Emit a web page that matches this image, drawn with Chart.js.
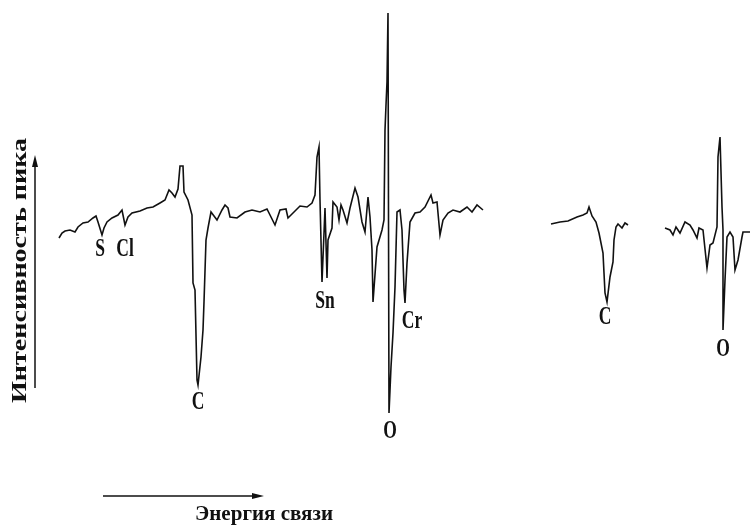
<!DOCTYPE html>
<html>
<head>
<meta charset="utf-8">
<script src="https://cdn.jsdelivr.net/npm/chart.js@4/dist/chart.umd.min.js"></script>
<style>
  body { margin: 0; background: #fff; }
  #spectrum { display: block; }
</style>
</head>
<body>
<canvas id="spectrum" width="753" height="529"></canvas>
<script>
// Оже-спектр (производная), три участка развертки

// Основной участок: S, Cl, C, Sn, O, Cr
var energyMain = [59, 62, 65, 70, 75, 78, 83, 88, 93, 96, 98, 102, 104, 107, 112, 118, 122, 125, 128, 132,
  140, 147, 153, 160, 165, 169, 172, 175, 178, 180, 183, 184, 188, 192, 193, 195, 197, 198, 201, 203,
  204, 206, 208, 211, 217, 222, 225, 228, 230, 237, 245, 252, 260, 267, 275, 280, 286, 288, 293, 300,
  307, 312, 315, 317, 319, 320, 322, 324, 325, 327, 328, 332, 333, 337, 339, 341, 343, 347, 350, 355,
  358, 362, 365, 368, 370, 372, 373, 377, 382, 384, 385, 386, 387, 388, 389, 391, 393, 395, 397, 400,
  402, 404, 405, 407, 410, 415, 420, 425, 431, 433, 437, 440, 443, 448, 453, 460, 467, 472, 477, 483];
var intensityMain = [-8, -3, -1, 0, -2, 3, 7, 8, 12, 14, 8, -5, 2, 8, 12, 15, 20, 5, 13, 17,
  19, 22, 23, 27, 30, 40, 37, 33, 41, 64, 64, 38, 30, 15, -53, -60, -150, -155, -127, -100,
  -72, -10, 2, 18, 10, 20, 25, 22, 13, 12, 18, 20, 18, 21, 5, 20, 21, 12, 17, 24,
  23, 27, 35, 73, 83, 30, -52, -3, 22, -48, -10, 2, 28, 23, 10, 25, 20, 7, 22, 42,
  33, 8, -2, 33, 13, -20, -72, -17, 0, 10, 100, 125, 148, 217, -183, -137, -103, -57, 18, 20,
  0, -60, -73, -33, 8, 17, 18, 23, 35, 27, 28, -5, 10, 17, 20, 18, 23, 18, 25, 20];

// Второй участок: линия C
var energyC = [551, 560, 568, 577, 583, 587, 589, 592, 596, 599, 603, 605, 607, 610, 613, 614, 616, 618, 622, 625, 628];
var intensityC = [6, 8, 9, 13, 15, 17, 23, 14, 8, -3, -23, -63, -72, -47, -32, -10, 3, 6, 2, 7, 5];

// Третий участок: линия O
var energyO = [665, 670, 673, 676, 680, 685, 690, 693, 697, 699, 703, 707, 710, 713, 717, 718, 720, 722, 723, 723,
  725, 727, 730, 733, 735, 738, 742, 743, 750];
var intensityO = [2, 0, -5, 3, -3, 8, 5, 0, -8, 2, 0, -38, -15, -13, 3, 73, 93, 23, 0, -100,
  -50, -7, -2, -7, -40, -30, -7, -2, -2];

// Подписи пиков (энергия, интенсивность центра надписи)
var peakNames = ["S", "Cl", "C", "Sn", "O", "Cr", "C", "O"];
var peakEnergy = [100, 125, 198, 325, 390, 412, 605, 723];
var peakLevel = [-20, -20, -173, -72, -202, -92, -88, -120];

var titleY = "Интенсивность пика";
var titleX = "Энергия связи";

function toPoints(xs, ys) {
  var pts = [];
  for (var i = 0; i < xs.length; i++) {
    pts.push({ x: xs[i], y: ys[i] });
  }
  return pts;
}

function lineSet(xs, ys) {
  return {
    data: toPoints(xs, ys),
    showLine: true,
    borderColor: "#111",
    borderWidth: 1.6,
    pointRadius: 0,
    tension: 0,
  };
}

// текст, сжатый/растянутый до нужной ширины
function fitText(ctx, text, x, y, width, font) {
  ctx.save();
  ctx.font = font;
  var w = ctx.measureText(text).width;
  ctx.translate(x, y);
  ctx.scale(width / w, 1);
  ctx.fillText(text, 0, 0);
  ctx.restore();
}

function arrowHead(ctx, x, y, dir) {
  // dir: "up" или "right"
  ctx.beginPath();
  if (dir === "up") {
    ctx.moveTo(x, y);
    ctx.lineTo(x - 3, y + 12);
    ctx.lineTo(x + 3, y + 12);
  } else {
    ctx.moveTo(x, y);
    ctx.lineTo(x - 12, y - 3);
    ctx.lineTo(x - 12, y + 3);
  }
  ctx.closePath();
  ctx.fill();
}

var annotations = {
  id: "annotations",
  afterDraw: function (chart) {
    var ctx = chart.ctx;
    var sx = chart.scales.x;
    var sy = chart.scales.y;
    ctx.save();
    ctx.fillStyle = "#111";
    ctx.strokeStyle = "#111";
    ctx.textBaseline = "middle";

    // подписи элементов
    ctx.textAlign = "center";
    for (var i = 0; i < peakNames.length; i++) {
      ctx.save();
      ctx.font = "bold 25px 'Liberation Serif'";
      ctx.translate(sx.getPixelForValue(peakEnergy[i]), sy.getPixelForValue(peakLevel[i]));
      ctx.scale(0.7, 1);
      ctx.fillText(peakNames[i], 0, 0);
      ctx.restore();
    }

    // ось интенсивности
    ctx.lineWidth = 1.5;
    ctx.beginPath();
    ctx.moveTo(35, 388);
    ctx.lineTo(35, 165);
    ctx.stroke();
    arrowHead(ctx, 35, 155, "up");

    ctx.save();
    ctx.translate(20, 403);
    ctx.rotate(-Math.PI / 2);
    ctx.textAlign = "left";
    fitText(ctx, titleY, 0, 0, 265, "bold 22px 'Liberation Serif'");
    ctx.restore();

    // ось энергии
    ctx.beginPath();
    ctx.moveTo(103, 496);
    ctx.lineTo(255, 496);
    ctx.stroke();
    arrowHead(ctx, 264, 496, "right");

    ctx.textAlign = "left";
    ctx.textBaseline = "alphabetic";
    fitText(ctx, titleX, 195, 520, 138, "bold 20px 'Liberation Serif'");
    ctx.restore();
  },
};

var chart = new Chart(document.getElementById("spectrum"), {
  type: "scatter",
  data: {
    datasets: [
      lineSet(energyMain, intensityMain),
      lineSet(energyC, intensityC),
      lineSet(energyO, intensityO),
    ],
  },
  options: {
    responsive: false,
    animation: false,
    layout: { padding: 0 },
    plugins: {
      legend: { display: false },
      tooltip: { enabled: false },
    },
    scales: {
      x: { type: "linear", min: 0, max: 753, display: false },
      y: { type: "linear", min: -299, max: 230, display: false },
    },
  },
  plugins: [annotations],
});
</script>
</body>
</html>
